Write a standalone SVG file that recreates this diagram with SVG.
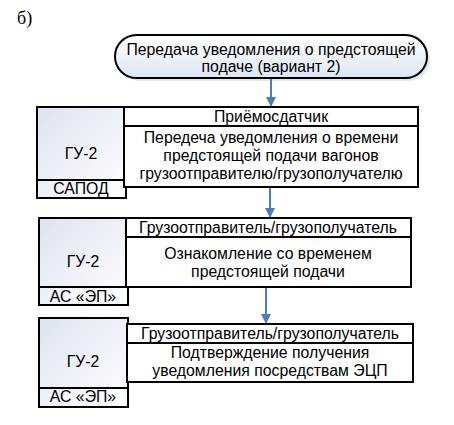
<svg xmlns="http://www.w3.org/2000/svg" width="454" height="425" viewBox="0 0 454 425">
<style>
.t{font-family:"Liberation Sans",Arial,sans-serif;font-size:15.8px;fill:#000;text-anchor:middle}
.b{stroke:#000;stroke-width:2;fill:#fff}
.g{stroke:#000;stroke-width:2;fill:url(#lg)}
.c{stroke:#4a7ebb;stroke-width:2;fill:none}
</style>
<defs>
<linearGradient id="lg" x1="0" y1="0" x2="1" y2="1">
<stop offset="0" stop-color="#dde3f0"/>
<stop offset="1" stop-color="#ffffff"/>
</linearGradient>
<linearGradient id="tg" x1="0" y1="0" x2="0" y2="1">
<stop offset="0" stop-color="#ffffff"/>
<stop offset="1" stop-color="#dde6f3"/>
</linearGradient>
<marker id="ah" markerWidth="10" markerHeight="10" refX="9" refY="5" orient="auto" markerUnits="userSpaceOnUse" viewBox="0 0 10 10">
<path d="M0,0 L10,5 L0,10 Z" fill="#4a7ebb"/>
</marker>
</defs>
<rect width="454" height="425" fill="#fff"/>
<text x="17" y="24" style="font-family:'Liberation Serif','Times New Roman',serif;font-size:18px">б)</text>

<g id="start">
<rect x="118" y="38" width="312" height="43" rx="21.5" fill="#d5dcea" opacity="0.7"/>
<rect x="115" y="35" width="312" height="43" rx="21.5" stroke="#000" stroke-width="2" fill="url(#tg)"/>
<text class="t" x="271" y="55">Передача уведомления о предстоящей</text>
<text class="t" x="271" y="72">подаче (вариант 2)</text>
</g>

<g id="step1">
<rect class="g" x="37" y="107" width="89" height="91"/>
<line x1="37" y1="180" x2="126" y2="180" stroke="#000" stroke-width="2"/>
<text class="t" x="81" y="159">ГУ-2</text>
<text class="t" x="81" y="194">САПОД</text>
<rect class="b" x="124" y="107" width="294" height="19"/>
<text class="t" x="271" y="122">Приёмосдатчик</text>
<rect class="b" x="124" y="126" width="294" height="61"/>
<text class="t" x="271" y="143">Передеча уведомления о времени</text>
<text class="t" x="271" y="161">предстоящей подачи вагонов</text>
<text class="t" x="271" y="179">грузоотправителю/грузополучателю</text>
</g>

<g id="step2">
<rect class="g" x="39" y="218" width="89" height="87"/>
<line x1="39" y1="287" x2="128" y2="287" stroke="#000" stroke-width="2"/>
<text class="t" x="83" y="267">ГУ-2</text>
<text class="t" x="83" y="302">АС «ЭП»</text>
<rect class="b" x="126" y="218" width="285" height="19"/>
<text class="t" x="268" y="233">Грузоотправитель/грузополучатель</text>
<rect class="b" x="126" y="237" width="285" height="50"/>
<text class="t" x="268" y="259">Ознакомление со временем</text>
<text class="t" x="268" y="277">предстоящей подачи</text>
</g>

<g id="step3">
<rect class="g" x="39" y="318" width="89" height="89"/>
<line x1="39" y1="388" x2="128" y2="388" stroke="#000" stroke-width="2"/>
<text class="t" x="83" y="367">ГУ-2</text>
<text class="t" x="83" y="402">АС «ЭП»</text>
<rect class="b" x="127" y="324" width="286" height="19"/>
<text class="t" x="270" y="339">Грузоотправитель/грузополучатель</text>
<rect class="b" x="127" y="343" width="286" height="39"/>
<text class="t" x="270" y="358">Подтверждение получения</text>
<text class="t" x="270" y="376">уведомления посредствам ЭЦП</text>
</g>

<g id="connectors">
<line class="c" x1="271" y1="79" x2="271" y2="106" marker-end="url(#ah)"/>
<line class="c" x1="270" y1="188" x2="270" y2="217" marker-end="url(#ah)"/>
<line class="c" x1="266" y1="288" x2="266" y2="323" marker-end="url(#ah)"/>
</g>
</svg>
